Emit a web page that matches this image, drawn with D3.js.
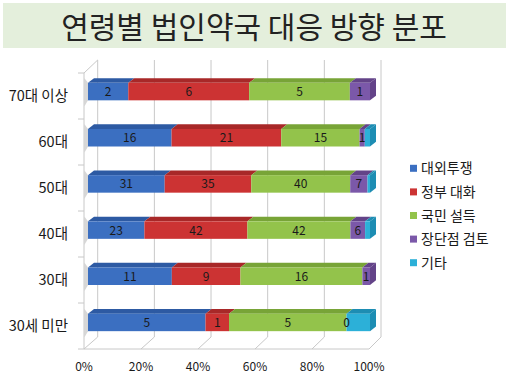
<!DOCTYPE html>
<html>
<head>
<meta charset="utf-8">
<script src="https://cdn.jsdelivr.net/npm/d3@7"></script>
<style>
  body { margin: 0; background: #fff; }
  text { font-family: "Noto Sans CJK KR", "Noto Sans", sans-serif; }
</style>
</head>
<body>
<script>
var categories = ["70대 이상", "60대", "50대", "40대", "30대", "30세 미만"]
var seriesNames = ["대외투쟁", "정부 대화", "국민 설득", "장단점 검토", "기타"]
var outside = [2, 16, 31, 23, 11, 5]
var govTalk = [6, 21, 35, 42, 9, 1]
var persuade = [5, 15, 40, 42, 16, 5]
var review = [1, 1, 7, 6, 1, 0]
var etc = [0, 1, 1, 2, 0, 1]
var ticks = ["0%", "20%", "40%", "60%", "80%", "100%"]

var colors = ["#3b6fc1", "#cc3333", "#93c34b", "#7b58a9", "#2cb0d8"]
var topColors = ["#2d5aa3", "#a82828", "#78a437", "#634388", "#1d8db3"]

var svg = d3.select("body").append("svg")
  .attr("width", 509)
  .attr("height", 392)

// title
svg.append("rect")
  .attr("x", 3).attr("y", 3).attr("width", 503).attr("height", 45)
  .attr("fill", "#e4efdc")
svg.append("text")
  .attr("x", 254).attr("y", 38)
  .attr("text-anchor", "middle")
  .attr("font-size", "30px")
  .attr("fill", "#222")
  .text("연령별 법인약국 대응 방향 분포")

var xFront = d3.scaleLinear().domain([0, 1]).range([84, 369])
var xBack = d3.scaleLinear().domain([0, 1]).range([97.7, 381])
var xBar = d3.scaleLinear().domain([0, 1]).range([88, 370])
var yAxis = d3.scaleBand().domain(categories).range([73, 349])
var yBar = d3.scaleBand().domain(categories).range([68.5, 345.5])

var floorFront = 349, floorBack = 337, topBack = 60, topFront = 73
var tickVals = d3.range(0, 1.0001, 0.2)

// back wall grid + floor lines
var grid = svg.append("g").attr("fill", "none").attr("stroke", "#c8c8c8").attr("stroke-width", 1)
tickVals.forEach(function(t) {
  grid.append("path")
    .attr("d", "M" + xBack(t) + "," + topBack + "L" + xBack(t) + "," + floorBack +
      "L" + xFront(t) + "," + floorFront)
})
// left wall
grid.append("path")
  .attr("d", "M" + xFront(0) + "," + floorFront + "L" + xFront(0) + "," + topFront +
    "L" + xBack(0) + "," + topBack)
// floor front edge
grid.append("path")
  .attr("d", "M" + xFront(0) + "," + floorFront + "L" + xFront(1) + "," + floorFront)

// category ticks
svg.append("g").selectAll("line")
  .data(categories.concat([null]))
  .enter().append("line")
  .attr("x1", 78).attr("x2", xFront(0))
  .attr("y1", function(d) { return d ? yAxis(d) : yAxis.range()[1] })
  .attr("y2", function(d) { return d ? yAxis(d) : yAxis.range()[1] })
  .attr("stroke", "#c8c8c8")

// stacked data
var rows = categories.map(function(c, i) {
  var vals = [outside[i], govTalk[i], persuade[i], review[i], etc[i]]
  var total = d3.sum(vals)
  var acc = 0
  return vals.map(function(v, s) {
    var seg = { cat: c, s: s, v: v, x0: acc / total, x1: (acc + v) / total }
    acc += v
    return seg
  })
})

var bh = 17.5, dx = 6, dy = 4.7

var bars = svg.append("g")
rows.forEach(function(row) {
  var cat = row[0].cat
  var yTop = yBar(cat) + yBar.bandwidth() / 2 - bh / 2
  var g = bars.append("g")
  // shadow on left wall
  g.append("path")
    .attr("d", "M" + (xFront(0) + 0.5) + "," + (yTop - dy) + "L" + xBar(0) + "," + (yTop) +
      "L" + xBar(0) + "," + (yTop + bh) + "L" + (xFront(0) + 0.5) + "," + (yTop + bh + 6) + "Z")
    .attr("fill", "#bdbdbd").attr("opacity", 0.6)
  row.forEach(function(seg) {
    var x0 = xBar(seg.x0), x1 = xBar(seg.x1)
    if (x1 - x0 <= 0) return
    g.append("path")
      .attr("d", "M" + x0 + "," + yTop + "L" + (x0 + dx) + "," + (yTop - dy) +
        "L" + (x1 + dx) + "," + (yTop - dy) + "L" + x1 + "," + yTop + "Z")
      .attr("fill", topColors[seg.s])
    g.append("rect")
      .attr("x", x0).attr("y", yTop)
      .attr("width", x1 - x0).attr("height", bh)
      .attr("fill", colors[seg.s])
  })
  // right side face
  var last = row.filter(function(s) { return s.v > 0 }).pop()
  var xe = xBar(1)
  g.append("path")
    .attr("d", "M" + xe + "," + yTop + "L" + (xe + dx) + "," + (yTop - dy) +
      "L" + (xe + dx) + "," + (yTop + bh - dy) + "L" + xe + "," + (yTop + bh) + "Z")
    .attr("fill", topColors[last.s])
  // labels for first four series
  row.slice(0, 4).forEach(function(seg) {
    g.append("text")
      .attr("x", (xBar(seg.x0) + xBar(seg.x1)) / 2)
      .attr("y", yTop + bh / 2 + 4.5)
      .attr("text-anchor", "middle")
      .attr("font-size", "12px")
      .attr("fill", "#1a1a1a")
      .text(seg.v)
  })
})

// category labels
svg.append("g").selectAll("text")
  .data(categories)
  .enter().append("text")
  .attr("x", 68)
  .attr("y", function(d) { return yAxis(d) + yAxis.bandwidth() / 2 + 5 })
  .attr("text-anchor", "end")
  .attr("font-size", "14.5px")
  .attr("fill", "#1a1a1a")
  .text(function(d) { return d })

// x tick labels
svg.append("g").selectAll("text")
  .data(ticks)
  .enter().append("text")
  .attr("x", function(d, i) { return xFront(tickVals[i]) })
  .attr("y", 371)
  .attr("text-anchor", "middle")
  .attr("font-size", "12px")
  .attr("fill", "#1a1a1a")
  .text(function(d) { return d })

// legend
var legend = svg.append("g").selectAll("g")
  .data(seriesNames)
  .enter().append("g")
  .attr("transform", function(d, i) { return "translate(410," + (168.3 + i * 23.6) + ")" })
legend.append("rect")
  .attr("x", 0).attr("y", -3.5).attr("width", 7).attr("height", 7)
  .attr("fill", function(d, i) { return colors[i] })
legend.append("text")
  .attr("x", 11).attr("y", 5)
  .attr("font-size", "14px")
  .attr("fill", "#1a1a1a")
  .text(function(d) { return d })
</script>
</body>
</html>
